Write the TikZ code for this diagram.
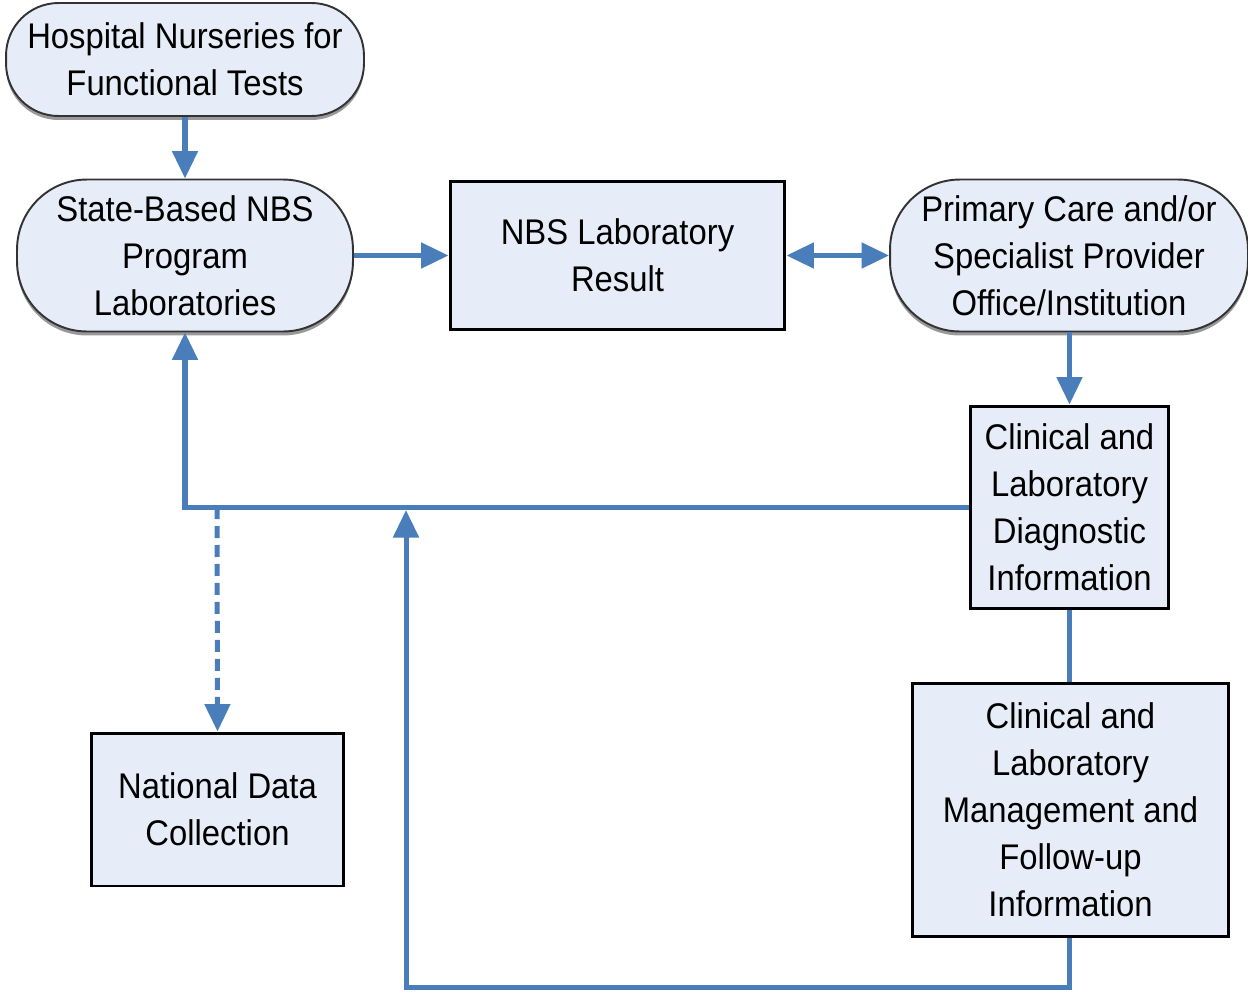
\documentclass[tikz,border=0pt]{standalone}
\usepackage{fontspec}
\setmainfont{Liberation Sans}[FakeStretch=0.92]
\usetikzlibrary{arrows.meta,shadows}
\definecolor{lineblue}{HTML}{4A7EBB}
\definecolor{boxfill}{HTML}{E7EDF8}
\tikzset{
  px/.style={x=0.02cm,y=-0.02cm},
  basebox/.style={fill=boxfill, align=center, inner sep=0pt,
    font=\fontsize{20.3}{26.75}\selectfont},
  rbox/.style={basebox, draw=black, line width=1.7pt, rectangle},
  pill/.style={basebox, draw=black!80, line width=1.1pt, rectangle,
    drop shadow={shadow xshift=0cm, shadow yshift=-0.08cm, fill=black!40, opacity=1}},
  conn/.style={draw=lineblue, line width=2.85pt},
  arr/.style={conn, -{Triangle[width=0.5cm,length=0.55cm]}},
  darr/.style={conn, {Triangle[width=0.5cm,length=0.55cm]}-{Triangle[width=0.5cm,length=0.55cm]}},
}
\begin{document}
\begin{tikzpicture}[px]
\useasboundingbox (0,0) rectangle (1248,991);
\node[pill, rounded corners=1.05cm, minimum width=7.16cm, minimum height=2.26cm] (hn) at (185,59.5) {Hospital Nurseries for\\Functional Tests};
\node[pill, rounded corners=1.4cm, minimum width=6.72cm, minimum height=3.04cm] (st) at (185,255.5) {State-Based NBS\\Program\\Laboratories};
\node[rbox, minimum width=6.7cm, minimum height=2.96cm] (lr) at (617.5,255.5) {NBS Laboratory\\Result};
\node[pill, rounded corners=1.4cm, minimum width=7.16cm, minimum height=3.04cm] (pc) at (1069,255.5) {Primary Care and/or\\Specialist Provider\\Office/Institution};
\node[rbox, minimum width=3.98cm, minimum height=4.06cm] (cd) at (1069.5,507.5) {Clinical and\\Laboratory\\Diagnostic\\Information};
\node[rbox, minimum width=6.34cm, minimum height=5.08cm] (mg) at (1070.5,810) {Clinical and\\Laboratory\\Management and\\Follow-up\\Information};
\node[rbox, minimum width=5.06cm, minimum height=3.06cm] (nd) at (217.5,809.5) {National Data\\Collection};

\coordinate (dj) at (217,507);
\coordinate (uj) at (406,510);
\coordinate (bc) at (406,987);

\draw[arr] (hn.south) -- (st.north);
\draw[arr] (st.east) -- (lr.west);
\draw[darr] (lr.east) -- (pc.west);
\draw[arr] (pc.south -| cd.north) -- (cd.north);
\draw[arr] (cd.west) -| (st.south);
\draw[conn, dashed, dash pattern=on 0.24cm off 0.14cm, -{Triangle[width=0.5cm,length=0.55cm]}] (dj) -- (nd.north);
\draw[conn] (cd.south) -- (mg.north -| cd.south);
\draw[arr] (mg.south -| cd.south) |- (bc) -- (uj);
\end{tikzpicture}
\end{document}
